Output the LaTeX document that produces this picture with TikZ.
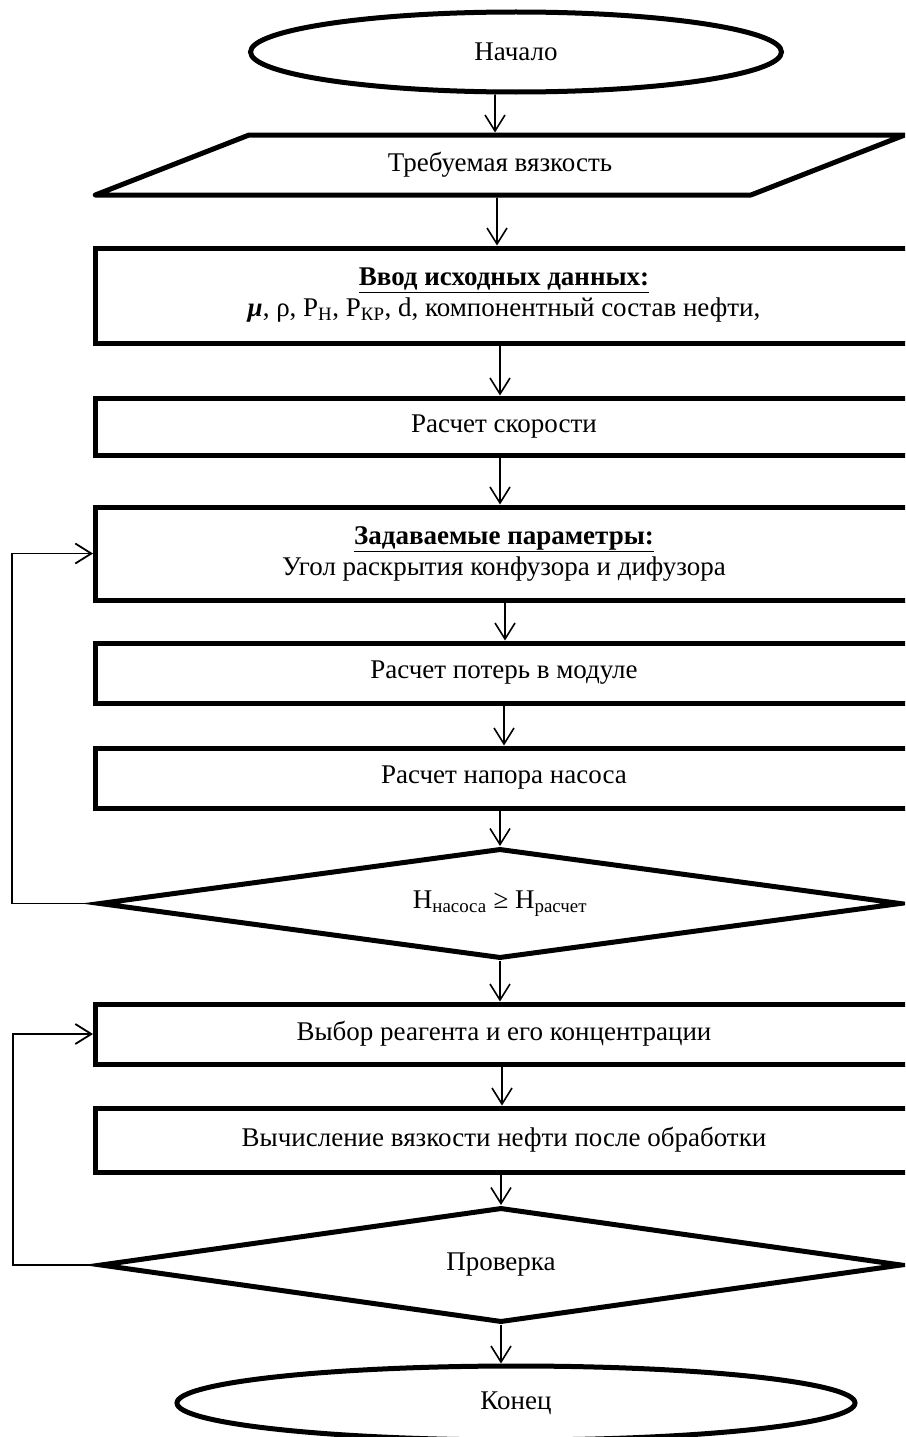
\documentclass[tikz,border=0pt]{standalone}
\usepackage{fontspec}
\setmainfont{Liberation Serif}
\usetikzlibrary{arrows.meta,shapes.geometric}
\begin{document}
\begin{tikzpicture}[x=1pt,y=-1pt,
  every node/.style={font=\fontsize{27}{31}\selectfont},
  heavy/.style={draw,line width=5pt},
  blk/.style={heavy,rectangle,inner sep=0pt,minimum width=817pt,align=center},
  term/.style={heavy,ellipse,inner sep=0pt},
  dec/.style={heavy,diamond,inner sep=0pt,minimum width=802pt,line join=miter},
  arr/.style={line width=1.6pt,-{Straight Barb[length=16pt,width=20pt]}},
  loopline/.style={line width=1.8pt,-{Straight Barb[length=16pt,width=20pt]}}
]
\useasboundingbox (0,0) rectangle (905,1437);
\clip (0,0) rectangle (905,1437);

\node[term,minimum width=531pt,minimum height=80pt] (start) at (516,52) {Начало};
\node[heavy,trapezium,trapezium left angle=20.1,trapezium right angle=159.9,
      trapezium stretches=true,minimum width=810pt,minimum height=60pt,
      inner sep=0pt,line join=round] (par) at (500,165) {Требуемая вязкость};
\node[blk,minimum height=95pt] (inp) at (504,295.5)
  {\underline{\textbf{Ввод исходных данных:}}\\
   \textbf{\textit{μ}}, ρ, Р\textsubscript{Н}, Р\textsubscript{КР}, d, компонентный состав нефти,};
\node[blk,minimum height=57pt] (spd) at (504,426.5) {Расчет скорости};
\node[blk,minimum height=93pt] (zad) at (504,553.5)
  {\underline{\textbf{Задаваемые параметры:}}\\ Угол раскрытия конфузора и дифузора};
\node[blk,minimum height=60pt] (loss) at (504,673) {Расчет потерь в модуле};
\node[blk,minimum height=60pt] (head) at (504,778) {Расчет напора насоса};
\node[dec,aspect=7.3,minimum height=110pt] (d1) at (500,903.5)
  {Н\textsubscript{насоса} ≥ Н\textsubscript{расчет}};
\node[blk,minimum height=60pt] (reag) at (504,1034) {Выбор реагента и его концентрации};
\node[blk,minimum height=64pt] (visc) at (504,1140) {Вычисление вязкости нефти после обработки};
\node[dec,aspect=7.0,minimum height=115pt] (d2) at (501,1265) {Проверка};
\node[term,minimum width=678pt,minimum height=74pt] (fin) at (516,1403) {Конец};

\coordinate (l1) at (12,0);
\coordinate (l2) at (13,0);

\draw[arr] ([xshift=-21pt]start.south) -- ([xshift=-5pt]par.north);
\draw[arr] ([xshift=-3pt]par.south) -- ([xshift=-7pt]inp.north);
\draw[arr] ([xshift=-4pt]inp.south) -- ([xshift=-4pt]spd.north);
\draw[arr] ([xshift=-4pt]spd.south) -- ([xshift=-4pt]zad.north);
\draw[arr] ([xshift=1pt]zad.south) -- ([xshift=1pt]loss.north);
\draw[arr] (loss.south) -- (head.north);
\draw[arr] ([xshift=-4pt]head.south) -- (d1.north);
\draw[arr] (d1.south) -- ([xshift=-4pt]reag.north);
\draw[arr] ([xshift=-2pt]reag.south) -- ([xshift=-2pt]visc.north);
\draw[arr] ([xshift=-3pt]visc.south) -- (d2.north);
\draw[arr] (d2.south) -- ([xshift=-15pt]fin.north);

\draw[loopline] (d1.west) -- (d1.west -| l1) |- (zad.west);
\draw[loopline] (d2.west) -- (d2.west -| l2) |- (reag.west);
\end{tikzpicture}
\end{document}
